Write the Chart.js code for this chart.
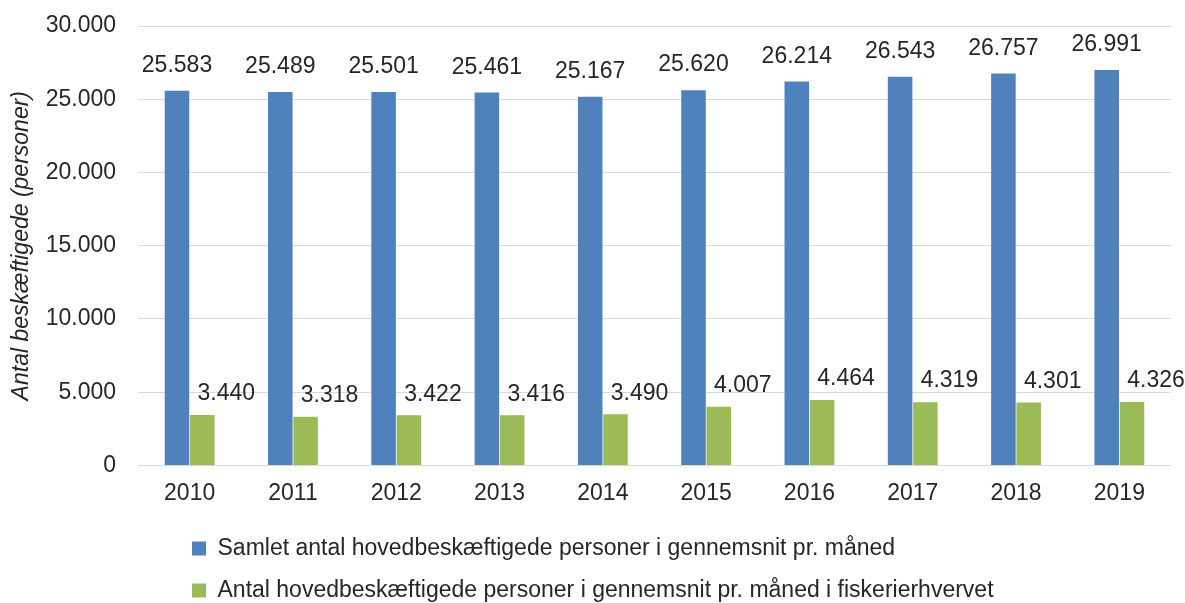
<!DOCTYPE html>
<html>
<head>
<meta charset="utf-8">
<script src="https://cdn.jsdelivr.net/npm/chart.js@4/dist/chart.umd.min.js"></script>
<style>
  html, body { margin: 0; padding: 0; background: #fff; }
  #wrap { width: 1185px; height: 603px; }
</style>
</head>
<body>
<div id="wrap"><canvas id="chart"></canvas></div>
<script>
var years = ['2010','2011','2012','2013','2014','2015','2016','2017','2018','2019'];
var totalEmployed = [25583,25489,25501,25461,25167,25620,26214,26543,26757,26991];
var fisheryEmployed = [3440,3318,3422,3416,3490,4007,4464,4319,4301,4326];
var seriesNames = [
  'Samlet antal hovedbeskæftigede personer i gennemsnit pr. måned',
  'Antal hovedbeskæftigede personer i gennemsnit pr. måned i fiskerierhvervet'
];
var yTitle = 'Antal beskæftigede (personer)';

var FONT = "'Liberation Sans', Arial, sans-serif";
var TEXT = '#262626';

function fmt(v) {
  return String(v).replace(/\B(?=(\d{3})+(?!\d))/g, '.');
}

// value labels above bars, green ones pushed right like in the original
var valueLabels = {
  id: 'valueLabels',
  afterDatasetsDraw: function(chart) {
    var ctx = chart.ctx;
    var dx = [0, 24];
    var dy = [25, 21];
    ctx.save();
    ctx.font = '23px ' + FONT;
    ctx.fillStyle = TEXT;
    ctx.textAlign = 'center';
    ctx.textBaseline = 'middle';
    chart.data.datasets.forEach(function(ds, i) {
      chart.getDatasetMeta(i).data.forEach(function(bar, j) {
        ctx.fillText(fmt(ds.data[j]), bar.x + dx[i], bar.y - dy[i]);
      });
    });
    ctx.restore();
  }
};

// legend is left aligned under the plot, not centered
var legendShift = {
  id: 'legendShift',
  afterLayout: function(chart) {
    chart.legend.left = 192 - 19;
  }
};

new Chart(document.getElementById('chart').getContext('2d'), {
  type: 'bar',
  data: {
    labels: years,
    datasets: [{
      label: seriesNames[0],
      data: totalEmployed,
      backgroundColor: '#4f81bd'
    }, {
      label: seriesNames[1],
      data: fisheryEmployed,
      backgroundColor: '#9bbb59'
    }]
  },
  options: {
    responsive: true,
    maintainAspectRatio: false,
    animation: false,
    layout: { padding: { top: 26, right: 14, left: 8, bottom: -9 } },
    datasets: {
      bar: { categoryPercentage: 0.49, barPercentage: 0.97 }
    },
    scales: {
      x: {
        grid: { display: false },
        border: { color: '#d9d9d9', width: 1 },
        ticks: { color: TEXT, font: { family: FONT, size: 23 }, padding: 6 },
        afterFit: function(s) { s.height += 5; }
      },
      y: {
        min: 0,
        max: 30000,
        grid: { color: '#d9d9d9', drawTicks: false },
        border: { display: false },
        ticks: {
          stepSize: 5000,
          color: TEXT,
          padding: 22,
          font: { family: FONT, size: 23 },
          callback: function(v) { return fmt(v); }
        },
        title: {
          display: true,
          text: yTitle,
          color: TEXT,
          font: { family: FONT, size: 23, style: 'italic' },
          padding: { top: 0, bottom: 4 }
        },
        afterFit: function(s) {
          s.width = 130;
          s.paddingTop = 0;
          s.paddingBottom = 0;
        }
      }
    },
    plugins: {
      legend: {
        position: 'bottom',
        align: 'start',
        labels: {
          color: TEXT,
          font: { family: FONT, size: 23 },
          boxWidth: 14,
          boxHeight: 14,
          padding: 19
        }
      },
      tooltip: { enabled: false }
    }
  },
  plugins: [valueLabels, legendShift]
});
</script>
</body>
</html>
